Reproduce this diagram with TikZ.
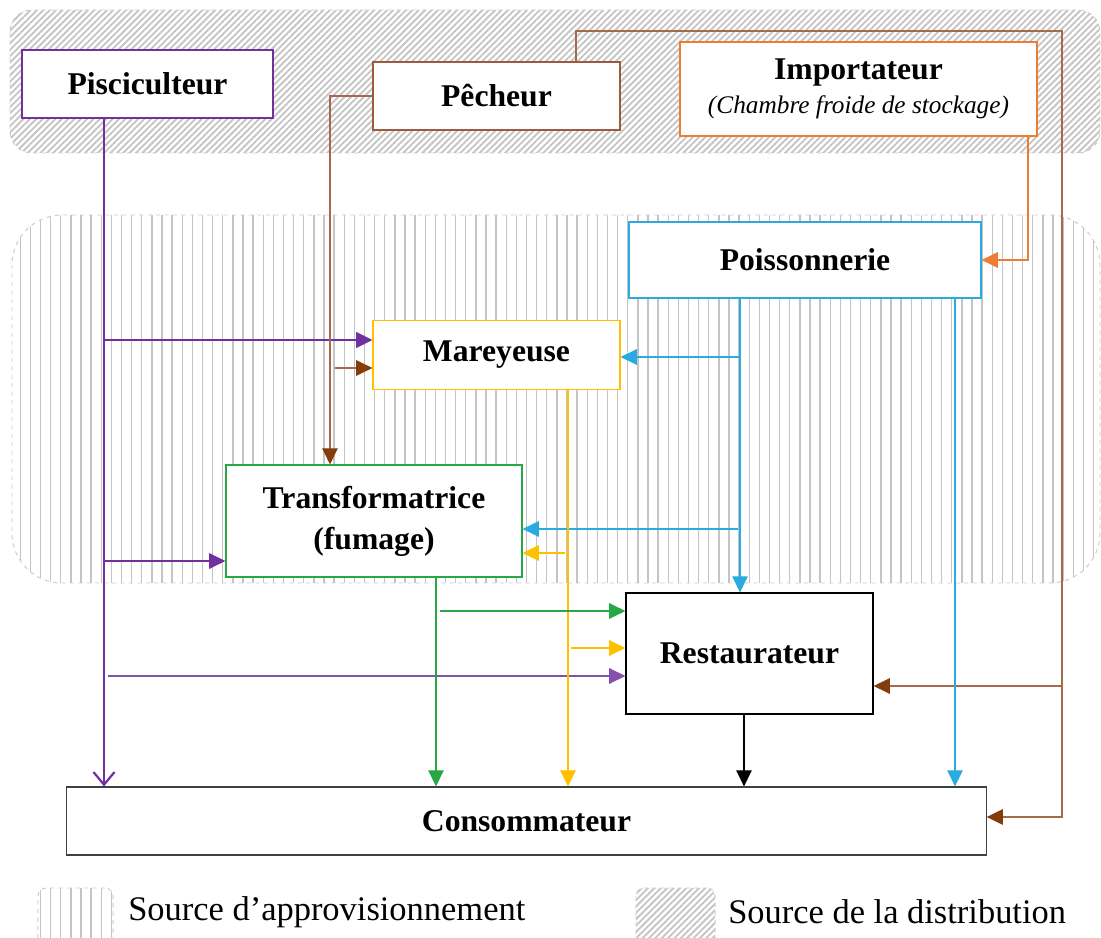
\documentclass[tikz,border=0pt]{standalone}
\usepackage{fontspec}
\setmainfont{Liberation Serif}
\usetikzlibrary{arrows.meta, positioning, patterns.meta}

\definecolor{pisccol}{HTML}{7030A0}
\definecolor{pechcol}{HTML}{9C5B3A}
\definecolor{pechline}{HTML}{A8694A}
\definecolor{pechtip}{HTML}{843C0C}
\definecolor{impocol}{HTML}{ED7D31}
\definecolor{poiscol}{HTML}{29ABE2}
\definecolor{marecol}{HTML}{FFC000}
\definecolor{trancol}{HTML}{27A844}
\definecolor{hatch}{HTML}{C4C4C4}

\begin{document}
\begin{tikzpicture} [x=0.025cm, y=-0.025cm, font=\fontsize{22.5}{26}\selectfont\bfseries,
        box/.style={draw, fill=white, line width=0.8pt, inner sep=0pt, align=center},
        flow/.style={line width=0.9pt, -{Triangle[length=11.5pt, width=11pt]}},
        brflow/.style={flow, pechline, -{Triangle[length=11.5pt, width=11pt, color=pechtip]}},
        band/.style={solid, postaction={draw=black!20, dashed, line width=0.7pt}},
        vhatch/.style={band, pattern={Lines[angle=90, distance=7.2pt, line width=1pt]}, pattern color=hatch},
        dhatch/.style={band, pattern={Lines[angle=45, distance=3.2pt, line width=1.3pt]}, pattern color=hatch},
        legtext/.style={anchor=west, inner sep=0pt, font=\fontsize{24.5}{28}\selectfont\mdseries}]

    \useasboundingbox (0,0) rectangle (1101,938);

    \path [dhatch, rounded corners=0.55cm] (10,10) rectangle (1100,153);
    \path [vhatch, rounded corners=1.25cm] (12,215) rectangle (1100,583);

    \node (pisc) [box, draw=pisccol, minimum width=6.275cm, minimum height=1.7cm] at (147.5,84) {Pisciculteur};
    \node (pech) [box, draw=pechcol, minimum width=6.175cm, minimum height=1.7cm] at (496.5,96) {Pêcheur};
    \node (impo) [box, draw=impocol, minimum width=8.925cm, minimum height=2.35cm] at (858.5,89)
        {Importateur\\[-2pt] {\mdseries\itshape\fontsize{18}{20}\selectfont (Chambre froide de stockage)}};
    \node (pois) [box, draw=poiscol, minimum width=8.8cm, minimum height=1.9cm] at (805,260) {Poissonnerie};
    \node (mare) [box, draw=marecol, minimum width=6.175cm, minimum height=1.725cm, below=4.725cm of pech] {Mareyeuse};
    \node (tran) [box, draw=trancol, minimum width=7.4cm, minimum height=2.8cm] at (374,521) {Transformatrice\\[3pt](fumage)};
    \node (rest) [box, draw=black, minimum width=6.175cm, minimum height=3.025cm] at (749.5,653.5) {Restaurateur};
    \node (cons) [box, draw=black!75, minimum width=22.975cm, minimum height=1.7cm] at (526.5,821) {Consommateur};

    \coordinate (xpur) at (104,0);
    \coordinate (xbr) at (330,0);
    \coordinate (xbr2) at (576,0);
    \coordinate (xor) at (1028,0);
    \coordinate (xbl) at (740,0);
    \coordinate (xbl2) at (955,0);
    \coordinate (xye) at (568,0);
    \coordinate (xgr) at (436,0);
    \coordinate (xbk) at (744,0);
    \coordinate (pu1) at (104,340);
    \coordinate (pu2) at (104,561);
    \coordinate (pu3) at (108,676);
    \coordinate (bm) at (335,368);
    \coordinate (bt) at (1062,31);
    \coordinate (bb) at (1062,817);
    \coordinate (br) at (1062,686);
    \coordinate (bl1) at (740,357);
    \coordinate (bl2) at (738,529);
    \coordinate (ye1) at (565,553);
    \coordinate (ye2) at (571,648);
    \coordinate (gr1) at (440,611);

    \draw [pisccol, line width=1.6pt, -{Straight Barb[length=9pt, width=15pt]}] (pisc.south -| xpur) -- (cons.north -| xpur);
    \draw [flow, pisccol, line width=1.6pt] (pu1) -- (pu1 -| mare.west);
    \draw [flow, pisccol, line width=1.1pt] (pu2) -- (pu2 -| tran.west);
    \draw [flow, pisccol!85, line width=1.1pt] (pu3) -- (pu3 -| rest.west);

    \draw [brflow] (pech.west) -| (tran.north -| xbr);
    \draw [brflow] (bm) -- (bm -| mare.west);
    \draw [brflow] (pech.north -| xbr2) |- (bt) -- (bb) -- (bb -| cons.east);
    \draw [brflow] (br) -- (br -| rest.east);

    \draw [flow, impocol] (impo.south -| xor) |- (pois.east);

    \draw [flow, poiscol] (pois.south -| xbl) -- (rest.north -| xbl);
    \draw [flow, poiscol] (bl1) -- (bl1 -| mare.east);
    \draw [flow, poiscol] (bl2) -- (bl2 -| tran.east);
    \draw [flow, poiscol] (pois.south -| xbl2) -- (cons.north -| xbl2);

    \draw [flow, marecol] (mare.south -| xye) -- (cons.north -| xye);
    \draw [flow, marecol] (ye1) -- (ye1 -| tran.east);
    \draw [flow, marecol] (ye2) -- (ye2 -| rest.west);

    \draw [flow, trancol] (tran.south -| xgr) -- (cons.north -| xgr);
    \draw [flow, trancol] (gr1) -- (gr1 -| rest.west);

    \draw [flow, black] (rest.south -| xbk) -- (cons.north -| xbk);

    \begin{scope}
        \clip (0,0) rectangle (1101,938);
        \node (legA) [vhatch, rounded corners=0.2cm, minimum width=1.875cm, minimum height=1.55cm] at (75.5,919) {};
        \node (legB) [dhatch, rounded corners=0.2cm, minimum width=1.975cm, minimum height=1.55cm] at (675.5,919) {};
    \end{scope}
    \node (legAtext) [legtext] at (128,912) {Source d’approvisionnement};
    \node (legBtext) [legtext] at (728,912) {Source de la distribution};
\end{tikzpicture}
\end{document}
